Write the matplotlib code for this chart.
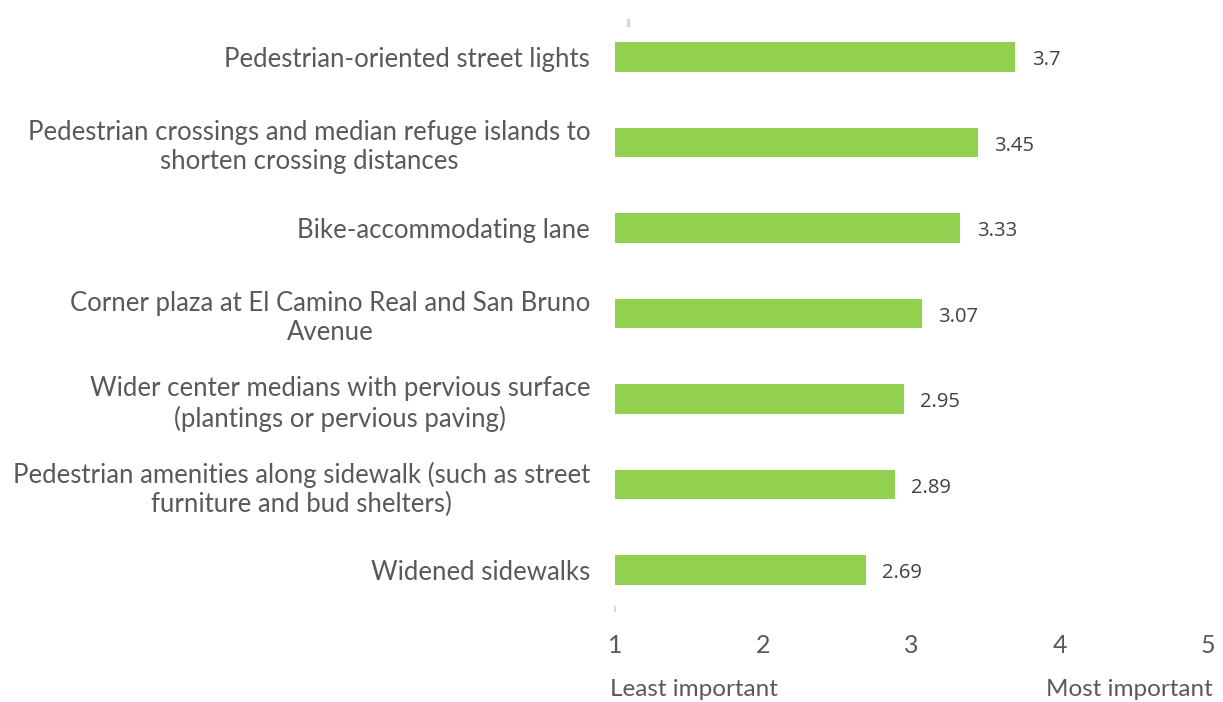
import matplotlib
matplotlib.use("Agg")
import matplotlib.pyplot as plt

categories = [
    "Pedestrian-oriented street lights",
    "Pedestrian crossings and median refuge islands to\nshorten crossing distances",
    "Bike-accommodating lane",
    "Corner plaza at El Camino Real and San Bruno\nAvenue",
    "Wider center medians with pervious surface\n(plantings or pervious paving)",
    "Pedestrian amenities along sidewalk (such as street\nfurniture and bud shelters)",
    "Widened sidewalks",
]
values = [3.7, 3.45, 3.33, 3.07, 2.95, 2.89, 2.69]
value_labels = ["3.7", "3.45", "3.33", "3.07", "2.95", "2.89", "2.69"]
xticks = [1, 2, 3, 4, 5]

BAR = "#92D050"
TXT = "#595959"

W, H = 1223, 702
fig = plt.figure(figsize=(W / 100, H / 100), dpi=100)
ax = fig.add_axes([615 / W, 1 - 612.75 / H, (1208 - 615) / W, (612.75 - 14.25) / H])

y = list(range(len(categories)))
base = xticks[0]
ax.barh(y, [v - base for v in values], left=base, height=0.34, color=BAR)
for yi, v, lab in zip(y, values, value_labels):
    ax.text(v + 0.11, yi + 0.04, lab, va="center", ha="left", fontsize=14.5,
            color="#404040", family="Open Sans")

ax.set_xlim(1, 5)
ax.set_ylim(len(categories) - 0.5, -0.5)
ax.set_yticks(y)
ax.set_yticklabels(categories, fontsize=18.5, color=TXT, family="Lato",
                   linespacing=1.22)
for lbl in ax.get_yticklabels():
    lbl.set_multialignment("center")
ax.set_xticks(xticks)
ax.set_xticklabels([str(t) for t in xticks], fontsize=18, color=TXT, family="Lato")
ax.tick_params(axis="y", length=0, pad=18)
ax.tick_params(axis="x", length=0, pad=15)
for s in ax.spines.values():
    s.set_visible(False)

# faint axis stubs seen in the original
ax.plot([1.09, 1.09], [-0.43, -0.38], color="#d9d9d9", lw=2.5, clip_on=False)
ax.plot([1.0, 1.0], [6.43, 6.48], color="#d9d9d9", lw=1.5, clip_on=False)

fig.text(610 / W, 1 - 690 / H, "Least important", ha="left", va="center",
         fontsize=17.5, color=TXT, family="Lato")
fig.text(1213 / W, 1 - 690 / H, "Most important", ha="right", va="center",
         fontsize=17.5, color=TXT, family="Lato")

fig.savefig("out.png", dpi=100)
